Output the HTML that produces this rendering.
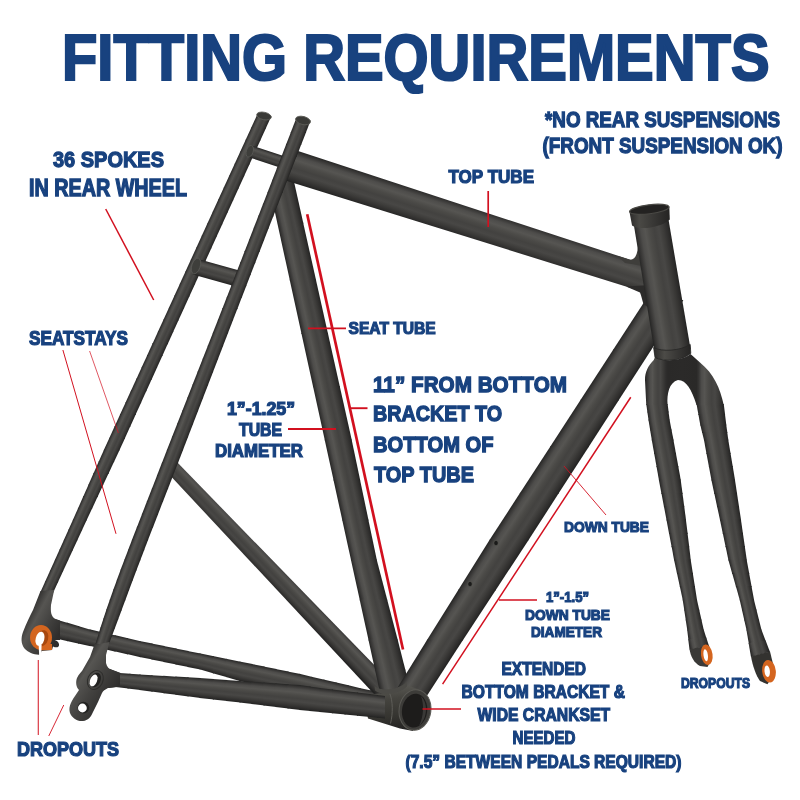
<!DOCTYPE html>
<html><head><meta charset="utf-8"><title>Fitting Requirements</title>
<style>
html,body{margin:0;padding:0;background:#fff;}
body{width:800px;height:800px;overflow:hidden;font-family:"Liberation Sans",sans-serif;}
svg{display:block}
text{font-family:"Liberation Sans",sans-serif;font-weight:bold;fill:#18427f;}
</style></head><body>
<svg width="800" height="800" viewBox="0 0 800 800">
<defs>
<linearGradient id="gb"><stop offset="0" stop-color="#252524"/><stop offset="0.06" stop-color="#343332"/><stop offset="0.18" stop-color="#4d4c4a"/><stop offset="0.3" stop-color="#565552"/><stop offset="0.42" stop-color="#4b4a47"/><stop offset="0.55" stop-color="#434240"/><stop offset="0.68" stop-color="#484745"/><stop offset="0.8" stop-color="#3c3b39"/><stop offset="0.92" stop-color="#2e2d2c"/><stop offset="1" stop-color="#222221"/></linearGradient>
<linearGradient id="g1" href="#gb" gradientUnits="userSpaceOnUse" x1="63.9" y1="621.7" x2="59.4" y2="639.3"/>
<linearGradient id="g2" href="#gb" gradientUnits="userSpaceOnUse" x1="75.2" y1="625.0" x2="70.8" y2="641.7"/>
<linearGradient id="g3" href="#gb" gradientUnits="userSpaceOnUse" x1="86.4" y1="628.3" x2="82.3" y2="644.2"/>
<linearGradient id="g4" href="#gb" gradientUnits="userSpaceOnUse" x1="98.0" y1="631.3" x2="94.5" y2="647.0"/>
<linearGradient id="g5" href="#gb" gradientUnits="userSpaceOnUse" x1="110.5" y1="634.2" x2="107.0" y2="649.7"/>
<linearGradient id="g6" href="#gb" gradientUnits="userSpaceOnUse" x1="123.0" y1="637.1" x2="119.5" y2="652.5"/>
<linearGradient id="g7" href="#gb" gradientUnits="userSpaceOnUse" x1="135.5" y1="639.9" x2="132.0" y2="655.2"/>
<linearGradient id="g8" href="#gb" gradientUnits="userSpaceOnUse" x1="147.6" y1="642.6" x2="144.4" y2="657.9"/>
<linearGradient id="g9" href="#gb" gradientUnits="userSpaceOnUse" x1="159.6" y1="645.1" x2="156.4" y2="660.4"/>
<linearGradient id="g10" href="#gb" gradientUnits="userSpaceOnUse" x1="171.6" y1="647.6" x2="168.4" y2="662.9"/>
<linearGradient id="g11" href="#gb" gradientUnits="userSpaceOnUse" x1="183.6" y1="650.1" x2="180.4" y2="665.4"/>
<linearGradient id="g12" href="#gb" gradientUnits="userSpaceOnUse" x1="195.6" y1="652.6" x2="192.4" y2="667.9"/>
<linearGradient id="g13" href="#gb" gradientUnits="userSpaceOnUse" x1="208.6" y1="655.3" x2="204.8" y2="671.0"/>
<linearGradient id="g14" href="#gb" gradientUnits="userSpaceOnUse" x1="222.0" y1="658.0" x2="218.0" y2="674.8"/>
<linearGradient id="g15" href="#gb" gradientUnits="userSpaceOnUse" x1="235.5" y1="660.7" x2="231.2" y2="678.6"/>
<linearGradient id="g16" href="#gb" gradientUnits="userSpaceOnUse" x1="248.0" y1="663.2" x2="244.0" y2="681.9"/>
<linearGradient id="g17" href="#gb" gradientUnits="userSpaceOnUse" x1="260.0" y1="665.7" x2="256.0" y2="684.5"/>
<linearGradient id="g18" href="#gb" gradientUnits="userSpaceOnUse" x1="272.0" y1="668.2" x2="268.0" y2="687.1"/>
<linearGradient id="g19" href="#gb" gradientUnits="userSpaceOnUse" x1="284.0" y1="670.7" x2="280.0" y2="689.7"/>
<linearGradient id="g20" href="#gb" gradientUnits="userSpaceOnUse" x1="296.0" y1="673.2" x2="292.0" y2="692.3"/>
<linearGradient id="g21" href="#gb" gradientUnits="userSpaceOnUse" x1="308.2" y1="675.9" x2="303.8" y2="694.9"/>
<linearGradient id="g22" href="#gb" gradientUnits="userSpaceOnUse" x1="320.2" y1="678.7" x2="315.8" y2="697.7"/>
<linearGradient id="g23" href="#gb" gradientUnits="userSpaceOnUse" x1="332.2" y1="681.5" x2="327.8" y2="700.5"/>
<linearGradient id="g24" href="#gb" gradientUnits="userSpaceOnUse" x1="344.2" y1="684.3" x2="339.8" y2="703.3"/>
<linearGradient id="g25" href="#gb" gradientUnits="userSpaceOnUse" x1="356.2" y1="687.1" x2="351.8" y2="706.1"/>
<linearGradient id="g26" href="#gb" gradientUnits="userSpaceOnUse" x1="367.3" y1="689.6" x2="363.4" y2="708.6"/>
<linearGradient id="g27" href="#gb" gradientUnits="userSpaceOnUse" x1="377.9" y1="691.9" x2="374.1" y2="710.6"/>
<linearGradient id="g28" href="#gb" gradientUnits="userSpaceOnUse" x1="388.5" y1="694.2" x2="384.8" y2="712.6"/>
<linearGradient id="g29" href="#gb" gradientUnits="userSpaceOnUse" x1="255.1" y1="119.2" x2="267.4" y2="124.8"/>
<linearGradient id="g30" href="#gb" gradientUnits="userSpaceOnUse" x1="249.6" y1="131.2" x2="262.0" y2="136.8"/>
<linearGradient id="g31" href="#gb" gradientUnits="userSpaceOnUse" x1="244.1" y1="143.2" x2="256.5" y2="148.8"/>
<linearGradient id="g32" href="#gb" gradientUnits="userSpaceOnUse" x1="238.6" y1="155.2" x2="251.1" y2="160.8"/>
<linearGradient id="g33" href="#gb" gradientUnits="userSpaceOnUse" x1="233.1" y1="167.2" x2="245.6" y2="172.8"/>
<linearGradient id="g34" href="#gb" gradientUnits="userSpaceOnUse" x1="227.7" y1="179.2" x2="240.2" y2="184.8"/>
<linearGradient id="g35" href="#gb" gradientUnits="userSpaceOnUse" x1="222.2" y1="191.1" x2="234.7" y2="196.9"/>
<linearGradient id="g36" href="#gb" gradientUnits="userSpaceOnUse" x1="216.7" y1="203.1" x2="229.2" y2="208.9"/>
<linearGradient id="g37" href="#gb" gradientUnits="userSpaceOnUse" x1="211.2" y1="215.1" x2="223.8" y2="220.9"/>
<linearGradient id="g38" href="#gb" gradientUnits="userSpaceOnUse" x1="205.7" y1="227.1" x2="218.3" y2="232.9"/>
<linearGradient id="g39" href="#gb" gradientUnits="userSpaceOnUse" x1="200.3" y1="239.1" x2="212.8" y2="244.9"/>
<linearGradient id="g40" href="#gb" gradientUnits="userSpaceOnUse" x1="194.8" y1="251.1" x2="207.4" y2="256.9"/>
<linearGradient id="g41" href="#gb" gradientUnits="userSpaceOnUse" x1="189.3" y1="263.1" x2="201.9" y2="268.9"/>
<linearGradient id="g42" href="#gb" gradientUnits="userSpaceOnUse" x1="183.8" y1="275.1" x2="196.4" y2="280.9"/>
<linearGradient id="g43" href="#gb" gradientUnits="userSpaceOnUse" x1="178.3" y1="287.1" x2="191.0" y2="292.9"/>
<linearGradient id="g44" href="#gb" gradientUnits="userSpaceOnUse" x1="172.9" y1="299.1" x2="185.5" y2="304.9"/>
<linearGradient id="g45" href="#gb" gradientUnits="userSpaceOnUse" x1="167.4" y1="311.1" x2="180.0" y2="316.9"/>
<linearGradient id="g46" href="#gb" gradientUnits="userSpaceOnUse" x1="162.0" y1="323.0" x2="174.6" y2="328.8"/>
<linearGradient id="g47" href="#gb" gradientUnits="userSpaceOnUse" x1="156.5" y1="334.8" x2="169.2" y2="340.6"/>
<linearGradient id="g48" href="#gb" gradientUnits="userSpaceOnUse" x1="151.1" y1="346.6" x2="163.9" y2="352.4"/>
<linearGradient id="g49" href="#gb" gradientUnits="userSpaceOnUse" x1="145.7" y1="358.5" x2="158.5" y2="364.3"/>
<linearGradient id="g50" href="#gb" gradientUnits="userSpaceOnUse" x1="140.3" y1="370.3" x2="153.1" y2="376.1"/>
<linearGradient id="g51" href="#gb" gradientUnits="userSpaceOnUse" x1="134.9" y1="382.1" x2="147.8" y2="387.9"/>
<linearGradient id="g52" href="#gb" gradientUnits="userSpaceOnUse" x1="129.5" y1="393.9" x2="142.4" y2="399.8"/>
<linearGradient id="g53" href="#gb" gradientUnits="userSpaceOnUse" x1="124.1" y1="405.7" x2="137.0" y2="411.6"/>
<linearGradient id="g54" href="#gb" gradientUnits="userSpaceOnUse" x1="118.7" y1="417.5" x2="131.6" y2="423.4"/>
<linearGradient id="g55" href="#gb" gradientUnits="userSpaceOnUse" x1="113.3" y1="429.3" x2="126.3" y2="435.2"/>
<linearGradient id="g56" href="#gb" gradientUnits="userSpaceOnUse" x1="107.9" y1="441.1" x2="120.9" y2="447.1"/>
<linearGradient id="g57" href="#gb" gradientUnits="userSpaceOnUse" x1="102.6" y1="452.9" x2="115.5" y2="458.8"/>
<linearGradient id="g58" href="#gb" gradientUnits="userSpaceOnUse" x1="97.4" y1="464.6" x2="110.0" y2="470.4"/>
<linearGradient id="g59" href="#gb" gradientUnits="userSpaceOnUse" x1="92.2" y1="476.3" x2="104.6" y2="482.0"/>
<linearGradient id="g60" href="#gb" gradientUnits="userSpaceOnUse" x1="87.0" y1="488.1" x2="99.1" y2="493.6"/>
<linearGradient id="g61" href="#gb" gradientUnits="userSpaceOnUse" x1="81.8" y1="499.8" x2="93.7" y2="505.2"/>
<linearGradient id="g62" href="#gb" gradientUnits="userSpaceOnUse" x1="76.6" y1="511.5" x2="88.2" y2="516.8"/>
<linearGradient id="g63" href="#gb" gradientUnits="userSpaceOnUse" x1="71.8" y1="522.4" x2="83.2" y2="527.6"/>
<linearGradient id="g64" href="#gb" gradientUnits="userSpaceOnUse" x1="67.3" y1="532.4" x2="78.6" y2="537.6"/>
<linearGradient id="g65" href="#gb" gradientUnits="userSpaceOnUse" x1="62.8" y1="542.5" x2="74.0" y2="547.5"/>
<linearGradient id="g66" href="#gb" gradientUnits="userSpaceOnUse" x1="58.3" y1="552.5" x2="69.4" y2="557.5"/>
<linearGradient id="g67" href="#gb" gradientUnits="userSpaceOnUse" x1="53.6" y1="563.0" x2="64.5" y2="568.0"/>
<linearGradient id="g68" href="#gb" gradientUnits="userSpaceOnUse" x1="48.6" y1="574.0" x2="59.5" y2="579.0"/>
<linearGradient id="g69" href="#gb" gradientUnits="userSpaceOnUse" x1="43.6" y1="585.0" x2="54.4" y2="590.0"/>
<linearGradient id="fdo" gradientUnits="userSpaceOnUse" x1="22" y1="622" x2="56" y2="640"><stop offset="0" stop-color="#2c2b2a"/><stop offset="0.28" stop-color="#565552"/><stop offset="0.6" stop-color="#434240"/><stop offset="1" stop-color="#2e2d2c"/></linearGradient>
<linearGradient id="g70" href="#gb" gradientUnits="userSpaceOnUse" x1="250.9" y1="145.3" x2="247.1" y2="156.7"/>
<linearGradient id="g71" href="#gb" gradientUnits="userSpaceOnUse" x1="197.2" y1="258.7" x2="192.8" y2="274.5"/>
<linearGradient id="g72" href="#gb" gradientUnits="userSpaceOnUse" x1="175.4" y1="455.8" x2="160.6" y2="470.0"/>
<linearGradient id="g73" href="#gb" gradientUnits="userSpaceOnUse" x1="274.4" y1="210.0" x2="299.1" y2="204.5"/>
<linearGradient id="g74" href="#gb" gradientUnits="userSpaceOnUse" x1="285.0" y1="258.5" x2="310.0" y2="253.0"/>
<linearGradient id="g75" href="#gb" gradientUnits="userSpaceOnUse" x1="296.2" y1="309.4" x2="321.3" y2="303.9"/>
<linearGradient id="g76" href="#gb" gradientUnits="userSpaceOnUse" x1="307.9" y1="362.8" x2="333.3" y2="357.2"/>
<linearGradient id="g77" href="#gb" gradientUnits="userSpaceOnUse" x1="319.5" y1="416.2" x2="345.2" y2="410.5"/>
<linearGradient id="g78" href="#gb" gradientUnits="userSpaceOnUse" x1="329.7" y1="462.7" x2="355.3" y2="457.3"/>
<linearGradient id="g79" href="#gb" gradientUnits="userSpaceOnUse" x1="338.5" y1="502.7" x2="363.7" y2="497.3"/>
<linearGradient id="g80" href="#gb" gradientUnits="userSpaceOnUse" x1="347.2" y1="542.7" x2="372.1" y2="537.3"/>
<linearGradient id="g81" href="#gb" gradientUnits="userSpaceOnUse" x1="356.1" y1="583.0" x2="381.3" y2="577.0"/>
<linearGradient id="g82" href="#gb" gradientUnits="userSpaceOnUse" x1="364.9" y1="623.2" x2="391.7" y2="616.8"/>
<linearGradient id="g83" href="#gb" gradientUnits="userSpaceOnUse" x1="372.6" y1="658.3" x2="400.8" y2="651.7"/>
<linearGradient id="g84" href="#gb" gradientUnits="userSpaceOnUse" x1="379.2" y1="688.5" x2="408.4" y2="681.5"/>
<linearGradient id="g85" href="#gb" gradientUnits="userSpaceOnUse" x1="288.9" y1="148.0" x2="279.1" y2="178.5"/>
<linearGradient id="g86" href="#gb" gradientUnits="userSpaceOnUse" x1="634.9" y1="316.3" x2="661.7" y2="333.7"/>
<linearGradient id="g87" href="#gb" gradientUnits="userSpaceOnUse" x1="602.4" y1="366.3" x2="629.4" y2="383.7"/>
<linearGradient id="g88" href="#gb" gradientUnits="userSpaceOnUse" x1="571.0" y1="414.5" x2="598.2" y2="432.1"/>
<linearGradient id="g89" href="#gb" gradientUnits="userSpaceOnUse" x1="540.7" y1="461.2" x2="568.0" y2="478.8"/>
<linearGradient id="g90" href="#gb" gradientUnits="userSpaceOnUse" x1="510.4" y1="507.8" x2="537.9" y2="525.6"/>
<linearGradient id="g91" href="#gb" gradientUnits="userSpaceOnUse" x1="479.4" y1="556.3" x2="506.6" y2="573.7"/>
<linearGradient id="g92" href="#gb" gradientUnits="userSpaceOnUse" x1="448.0" y1="606.6" x2="474.1" y2="623.4"/>
<linearGradient id="g93" href="#gb" gradientUnits="userSpaceOnUse" x1="411.9" y1="664.6" x2="437.0" y2="680.4"/>
<linearGradient id="g94" href="#gb" gradientUnits="userSpaceOnUse" x1="632.0" y1="217.0" x2="667.6" y2="211.0"/>
<linearGradient id="bbs" gradientUnits="userSpaceOnUse" x1="390" y1="688" x2="394" y2="730"><stop offset="0" stop-color="#55544f"/><stop offset="0.25" stop-color="#45443f"/><stop offset="0.7" stop-color="#34332f"/><stop offset="1" stop-color="#242322"/></linearGradient>
<linearGradient id="g95" href="#gb" gradientUnits="userSpaceOnUse" x1="114.9" y1="671.0" x2="112.1" y2="687.5"/>
<linearGradient id="g96" href="#gb" gradientUnits="userSpaceOnUse" x1="124.2" y1="673.3" x2="122.8" y2="687.8"/>
<linearGradient id="g97" href="#gb" gradientUnits="userSpaceOnUse" x1="135.3" y1="674.2" x2="133.7" y2="689.2"/>
<linearGradient id="g98" href="#gb" gradientUnits="userSpaceOnUse" x1="146.8" y1="674.9" x2="145.2" y2="690.7"/>
<linearGradient id="g99" href="#gb" gradientUnits="userSpaceOnUse" x1="158.8" y1="675.6" x2="157.2" y2="692.3"/>
<linearGradient id="g100" href="#gb" gradientUnits="userSpaceOnUse" x1="170.8" y1="676.3" x2="169.2" y2="693.9"/>
<linearGradient id="g101" href="#gb" gradientUnits="userSpaceOnUse" x1="182.9" y1="677.0" x2="181.1" y2="695.5"/>
<linearGradient id="g102" href="#gb" gradientUnits="userSpaceOnUse" x1="194.9" y1="677.7" x2="193.1" y2="697.1"/>
<linearGradient id="g103" href="#gb" gradientUnits="userSpaceOnUse" x1="207.6" y1="678.6" x2="205.7" y2="698.7"/>
<linearGradient id="g104" href="#gb" gradientUnits="userSpaceOnUse" x1="221.0" y1="679.6" x2="219.0" y2="700.2"/>
<linearGradient id="g105" href="#gb" gradientUnits="userSpaceOnUse" x1="234.3" y1="680.6" x2="232.3" y2="701.7"/>
<linearGradient id="g106" href="#gb" gradientUnits="userSpaceOnUse" x1="247.0" y1="681.5" x2="245.0" y2="703.2"/>
<linearGradient id="g107" href="#gb" gradientUnits="userSpaceOnUse" x1="259.1" y1="682.3" x2="256.9" y2="704.6"/>
<linearGradient id="g108" href="#gb" gradientUnits="userSpaceOnUse" x1="271.1" y1="683.1" x2="268.9" y2="706.1"/>
<linearGradient id="g109" href="#gb" gradientUnits="userSpaceOnUse" x1="283.1" y1="683.9" x2="280.9" y2="707.6"/>
<linearGradient id="g110" href="#gb" gradientUnits="userSpaceOnUse" x1="295.2" y1="684.7" x2="292.8" y2="709.1"/>
<linearGradient id="g111" href="#gb" gradientUnits="userSpaceOnUse" x1="306.5" y1="685.9" x2="303.5" y2="710.3"/>
<linearGradient id="g112" href="#gb" gradientUnits="userSpaceOnUse" x1="316.5" y1="687.4" x2="313.5" y2="711.3"/>
<linearGradient id="g113" href="#gb" gradientUnits="userSpaceOnUse" x1="327.5" y1="688.9" x2="325.0" y2="712.5"/>
<linearGradient id="g114" href="#gb" gradientUnits="userSpaceOnUse" x1="340.0" y1="690.4" x2="337.5" y2="713.7"/>
<linearGradient id="g115" href="#gb" gradientUnits="userSpaceOnUse" x1="352.5" y1="691.9" x2="350.0" y2="715.0"/>
<linearGradient id="g116" href="#gb" gradientUnits="userSpaceOnUse" x1="365.0" y1="693.4" x2="362.5" y2="716.2"/>
<linearGradient id="g117" href="#gb" gradientUnits="userSpaceOnUse" x1="375.1" y1="694.7" x2="372.4" y2="717.2"/>
<linearGradient id="g118" href="#gb" gradientUnits="userSpaceOnUse" x1="382.6" y1="695.7" x2="379.9" y2="718.0"/>
<linearGradient id="g119" href="#gb" gradientUnits="userSpaceOnUse" x1="294.1" y1="123.9" x2="307.3" y2="129.0"/>
<linearGradient id="g120" href="#gb" gradientUnits="userSpaceOnUse" x1="289.4" y1="135.9" x2="302.6" y2="141.0"/>
<linearGradient id="g121" href="#gb" gradientUnits="userSpaceOnUse" x1="284.8" y1="147.8" x2="298.0" y2="152.9"/>
<linearGradient id="g122" href="#gb" gradientUnits="userSpaceOnUse" x1="280.2" y1="159.8" x2="293.3" y2="164.9"/>
<linearGradient id="g123" href="#gb" gradientUnits="userSpaceOnUse" x1="275.5" y1="171.7" x2="288.7" y2="176.8"/>
<linearGradient id="g124" href="#gb" gradientUnits="userSpaceOnUse" x1="270.9" y1="183.7" x2="284.0" y2="188.8"/>
<linearGradient id="g125" href="#gb" gradientUnits="userSpaceOnUse" x1="266.3" y1="195.6" x2="279.4" y2="200.7"/>
<linearGradient id="g126" href="#gb" gradientUnits="userSpaceOnUse" x1="261.6" y1="207.6" x2="274.7" y2="212.7"/>
<linearGradient id="g127" href="#gb" gradientUnits="userSpaceOnUse" x1="257.0" y1="219.5" x2="270.1" y2="224.6"/>
<linearGradient id="g128" href="#gb" gradientUnits="userSpaceOnUse" x1="252.4" y1="231.5" x2="265.4" y2="236.6"/>
<linearGradient id="g129" href="#gb" gradientUnits="userSpaceOnUse" x1="247.8" y1="243.2" x2="260.9" y2="248.2"/>
<linearGradient id="g130" href="#gb" gradientUnits="userSpaceOnUse" x1="243.4" y1="254.6" x2="256.4" y2="259.7"/>
<linearGradient id="g131" href="#gb" gradientUnits="userSpaceOnUse" x1="238.9" y1="266.0" x2="252.0" y2="271.1"/>
<linearGradient id="g132" href="#gb" gradientUnits="userSpaceOnUse" x1="234.5" y1="277.5" x2="247.6" y2="282.5"/>
<linearGradient id="g133" href="#gb" gradientUnits="userSpaceOnUse" x1="230.0" y1="288.9" x2="243.1" y2="294.0"/>
<linearGradient id="g134" href="#gb" gradientUnits="userSpaceOnUse" x1="225.6" y1="300.3" x2="238.7" y2="305.4"/>
<linearGradient id="g135" href="#gb" gradientUnits="userSpaceOnUse" x1="221.1" y1="311.7" x2="234.3" y2="316.8"/>
<linearGradient id="g136" href="#gb" gradientUnits="userSpaceOnUse" x1="216.4" y1="323.9" x2="229.5" y2="329.1"/>
<linearGradient id="g137" href="#gb" gradientUnits="userSpaceOnUse" x1="211.3" y1="336.9" x2="224.5" y2="342.1"/>
<linearGradient id="g138" href="#gb" gradientUnits="userSpaceOnUse" x1="206.2" y1="349.9" x2="219.5" y2="355.1"/>
<linearGradient id="g139" href="#gb" gradientUnits="userSpaceOnUse" x1="201.1" y1="362.9" x2="214.5" y2="368.1"/>
<linearGradient id="g140" href="#gb" gradientUnits="userSpaceOnUse" x1="196.0" y1="375.9" x2="209.5" y2="381.1"/>
<linearGradient id="g141" href="#gb" gradientUnits="userSpaceOnUse" x1="190.9" y1="388.9" x2="204.5" y2="394.1"/>
<linearGradient id="g142" href="#gb" gradientUnits="userSpaceOnUse" x1="185.8" y1="401.8" x2="199.5" y2="407.2"/>
<linearGradient id="g143" href="#gb" gradientUnits="userSpaceOnUse" x1="180.7" y1="414.8" x2="194.5" y2="420.2"/>
<linearGradient id="g144" href="#gb" gradientUnits="userSpaceOnUse" x1="175.6" y1="427.8" x2="189.5" y2="433.2"/>
<linearGradient id="g145" href="#gb" gradientUnits="userSpaceOnUse" x1="170.5" y1="440.8" x2="184.4" y2="446.2"/>
<linearGradient id="g146" href="#gb" gradientUnits="userSpaceOnUse" x1="165.5" y1="453.7" x2="179.4" y2="459.1"/>
<linearGradient id="g147" href="#gb" gradientUnits="userSpaceOnUse" x1="160.5" y1="466.6" x2="174.4" y2="472.0"/>
<linearGradient id="g148" href="#gb" gradientUnits="userSpaceOnUse" x1="155.5" y1="479.4" x2="169.4" y2="484.9"/>
<linearGradient id="g149" href="#gb" gradientUnits="userSpaceOnUse" x1="150.5" y1="492.3" x2="164.4" y2="497.7"/>
<linearGradient id="g150" href="#gb" gradientUnits="userSpaceOnUse" x1="145.5" y1="505.1" x2="159.5" y2="510.6"/>
<linearGradient id="g151" href="#gb" gradientUnits="userSpaceOnUse" x1="140.5" y1="518.0" x2="154.5" y2="523.4"/>
<linearGradient id="g152" href="#gb" gradientUnits="userSpaceOnUse" x1="135.5" y1="530.9" x2="149.5" y2="536.3"/>
<linearGradient id="g153" href="#gb" gradientUnits="userSpaceOnUse" x1="131.1" y1="542.3" x2="145.1" y2="547.7"/>
<linearGradient id="g154" href="#gb" gradientUnits="userSpaceOnUse" x1="127.2" y1="552.3" x2="141.3" y2="557.7"/>
<linearGradient id="g155" href="#gb" gradientUnits="userSpaceOnUse" x1="123.4" y1="562.3" x2="137.5" y2="567.7"/>
<linearGradient id="g156" href="#gb" gradientUnits="userSpaceOnUse" x1="119.6" y1="572.4" x2="133.7" y2="577.6"/>
<linearGradient id="g157" href="#gb" gradientUnits="userSpaceOnUse" x1="116.0" y1="582.4" x2="130.0" y2="587.6"/>
<linearGradient id="g158" href="#gb" gradientUnits="userSpaceOnUse" x1="112.4" y1="592.5" x2="126.3" y2="597.5"/>
<linearGradient id="g159" href="#gb" gradientUnits="userSpaceOnUse" x1="108.9" y1="602.5" x2="122.6" y2="607.5"/>
<linearGradient id="g160" href="#gb" gradientUnits="userSpaceOnUse" x1="105.6" y1="612.1" x2="119.2" y2="616.9"/>
<linearGradient id="g161" href="#gb" gradientUnits="userSpaceOnUse" x1="102.6" y1="621.2" x2="115.8" y2="625.8"/>
<linearGradient id="g162" href="#gb" gradientUnits="userSpaceOnUse" x1="99.9" y1="629.8" x2="112.7" y2="634.2"/>
<linearGradient id="g163" href="#gb" gradientUnits="userSpaceOnUse" x1="97.4" y1="637.9" x2="109.7" y2="642.1"/>
<linearGradient id="ndo" gradientUnits="userSpaceOnUse" x1="74" y1="672" x2="112" y2="696"><stop offset="0" stop-color="#2c2b2a"/><stop offset="0.22" stop-color="#565552"/><stop offset="0.55" stop-color="#434240"/><stop offset="1" stop-color="#2e2d2c"/></linearGradient>
<linearGradient id="g164" href="#gb" gradientUnits="userSpaceOnUse" x1="647.0" y1="409.4" x2="667.9" y2="406.6"/>
<linearGradient id="g165" href="#gb" gradientUnits="userSpaceOnUse" x1="648.1" y1="417.4" x2="668.9" y2="414.6"/>
<linearGradient id="g166" href="#gb" gradientUnits="userSpaceOnUse" x1="649.7" y1="426.9" x2="670.2" y2="423.1"/>
<linearGradient id="g167" href="#gb" gradientUnits="userSpaceOnUse" x1="651.3" y1="436.9" x2="672.2" y2="433.1"/>
<linearGradient id="g168" href="#gb" gradientUnits="userSpaceOnUse" x1="653.3" y1="448.6" x2="674.4" y2="444.8"/>
<linearGradient id="g169" href="#gb" gradientUnits="userSpaceOnUse" x1="655.7" y1="461.9" x2="676.8" y2="458.1"/>
<linearGradient id="g170" href="#gb" gradientUnits="userSpaceOnUse" x1="658.1" y1="475.2" x2="679.2" y2="471.4"/>
<linearGradient id="g171" href="#gb" gradientUnits="userSpaceOnUse" x1="660.4" y1="488.3" x2="681.4" y2="485.0"/>
<linearGradient id="g172" href="#gb" gradientUnits="userSpaceOnUse" x1="663.0" y1="501.6" x2="683.1" y2="498.4"/>
<linearGradient id="g173" href="#gb" gradientUnits="userSpaceOnUse" x1="665.5" y1="514.9" x2="684.9" y2="511.8"/>
<linearGradient id="g174" href="#gb" gradientUnits="userSpaceOnUse" x1="668.0" y1="528.1" x2="686.6" y2="525.2"/>
<linearGradient id="g175" href="#gb" gradientUnits="userSpaceOnUse" x1="670.5" y1="541.4" x2="688.2" y2="538.6"/>
<linearGradient id="g176" href="#gb" gradientUnits="userSpaceOnUse" x1="673.0" y1="554.6" x2="689.8" y2="552.0"/>
<linearGradient id="g177" href="#gb" gradientUnits="userSpaceOnUse" x1="675.8" y1="568.1" x2="691.5" y2="565.2"/>
<linearGradient id="g178" href="#gb" gradientUnits="userSpaceOnUse" x1="678.7" y1="581.4" x2="693.6" y2="578.6"/>
<linearGradient id="g179" href="#gb" gradientUnits="userSpaceOnUse" x1="681.6" y1="594.7" x2="695.7" y2="592.0"/>
<linearGradient id="g180" href="#gb" gradientUnits="userSpaceOnUse" x1="683.7" y1="606.3" x2="697.9" y2="603.7"/>
<linearGradient id="g181" href="#gb" gradientUnits="userSpaceOnUse" x1="685.3" y1="616.4" x2="700.1" y2="613.6"/>
<linearGradient id="g182" href="#gb" gradientUnits="userSpaceOnUse" x1="686.8" y1="626.5" x2="702.4" y2="623.5"/>
<linearGradient id="g183" href="#gb" gradientUnits="userSpaceOnUse" x1="688.1" y1="636.2" x2="704.8" y2="632.7"/>
<linearGradient id="g184" href="#gb" gradientUnits="userSpaceOnUse" x1="689.1" y1="645.3" x2="707.6" y2="641.4"/>
<linearGradient id="g185" href="#gb" gradientUnits="userSpaceOnUse" x1="697.8" y1="411.2" x2="724.1" y2="407.3"/>
<linearGradient id="g186" href="#gb" gradientUnits="userSpaceOnUse" x1="699.6" y1="421.7" x2="725.4" y2="417.8"/>
<linearGradient id="g187" href="#gb" gradientUnits="userSpaceOnUse" x1="701.7" y1="431.1" x2="726.4" y2="426.4"/>
<linearGradient id="g188" href="#gb" gradientUnits="userSpaceOnUse" x1="703.5" y1="438.5" x2="727.4" y2="434.0"/>
<linearGradient id="g189" href="#gb" gradientUnits="userSpaceOnUse" x1="705.6" y1="448.7" x2="729.1" y2="444.6"/>
<linearGradient id="g190" href="#gb" gradientUnits="userSpaceOnUse" x1="708.1" y1="462.0" x2="731.3" y2="458.0"/>
<linearGradient id="g191" href="#gb" gradientUnits="userSpaceOnUse" x1="710.5" y1="475.4" x2="733.5" y2="471.3"/>
<linearGradient id="g192" href="#gb" gradientUnits="userSpaceOnUse" x1="713.2" y1="488.7" x2="735.6" y2="484.6"/>
<linearGradient id="g193" href="#gb" gradientUnits="userSpaceOnUse" x1="716.1" y1="502.0" x2="737.6" y2="498.0"/>
<linearGradient id="g194" href="#gb" gradientUnits="userSpaceOnUse" x1="718.9" y1="515.2" x2="739.7" y2="511.4"/>
<linearGradient id="g195" href="#gb" gradientUnits="userSpaceOnUse" x1="721.7" y1="528.4" x2="741.6" y2="524.9"/>
<linearGradient id="g196" href="#gb" gradientUnits="userSpaceOnUse" x1="724.5" y1="541.7" x2="743.6" y2="538.3"/>
<linearGradient id="g197" href="#gb" gradientUnits="userSpaceOnUse" x1="727.3" y1="554.9" x2="745.5" y2="551.7"/>
<linearGradient id="g198" href="#gb" gradientUnits="userSpaceOnUse" x1="730.7" y1="568.6" x2="747.5" y2="564.7"/>
<linearGradient id="g199" href="#gb" gradientUnits="userSpaceOnUse" x1="734.5" y1="581.8" x2="750.0" y2="578.2"/>
<linearGradient id="g200" href="#gb" gradientUnits="userSpaceOnUse" x1="738.2" y1="595.0" x2="752.4" y2="591.7"/>
<linearGradient id="g201" href="#gb" gradientUnits="userSpaceOnUse" x1="741.3" y1="606.6" x2="754.9" y2="603.4"/>
<linearGradient id="g202" href="#gb" gradientUnits="userSpaceOnUse" x1="743.5" y1="616.6" x2="757.4" y2="613.4"/>
<linearGradient id="g203" href="#gb" gradientUnits="userSpaceOnUse" x1="745.8" y1="626.7" x2="759.9" y2="623.3"/>
<linearGradient id="g204" href="#gb" gradientUnits="userSpaceOnUse" x1="748.0" y1="638.1" x2="763.3" y2="634.1"/>
<linearGradient id="g205" href="#gb" gradientUnits="userSpaceOnUse" x1="750.0" y1="650.7" x2="767.7" y2="646.0"/>
<linearGradient id="fk" gradientUnits="userSpaceOnUse" x1="645" y1="0" x2="725" y2="0"><stop offset="0.000" stop-color="#252524"/><stop offset="0.025" stop-color="#343332"/><stop offset="0.062" stop-color="#4d4c4a"/><stop offset="0.094" stop-color="#565552"/><stop offset="0.125" stop-color="#4b4a47"/><stop offset="0.163" stop-color="#434240"/><stop offset="0.194" stop-color="#484745"/><stop offset="0.225" stop-color="#3c3b39"/><stop offset="0.263" stop-color="#2e2d2c"/><stop offset="0.287" stop-color="#2a2928"/><stop offset="0.463" stop-color="#2b2a29"/><stop offset="0.644" stop-color="#2a2928"/><stop offset="0.669" stop-color="#343332"/><stop offset="0.706" stop-color="#4d4c4a"/><stop offset="0.744" stop-color="#565552"/><stop offset="0.787" stop-color="#4b4a47"/><stop offset="0.831" stop-color="#434240"/><stop offset="0.875" stop-color="#484745"/><stop offset="0.919" stop-color="#3c3b39"/><stop offset="0.963" stop-color="#2e2d2c"/><stop offset="0.994" stop-color="#222221"/></linearGradient>
<linearGradient id="ring" gradientUnits="userSpaceOnUse" x1="653" y1="0" x2="691" y2="0"><stop offset="0" stop-color="#2a2928"/><stop offset="0.3" stop-color="#4c4b47"/><stop offset="0.6" stop-color="#3a3937"/><stop offset="1" stop-color="#252423"/></linearGradient>
<linearGradient id="hcap" gradientUnits="userSpaceOnUse" x1="629" y1="0" x2="670" y2="0"><stop offset="0" stop-color="#2a2928"/><stop offset="0.25" stop-color="#4a4945"/><stop offset="0.6" stop-color="#383735"/><stop offset="1" stop-color="#242322"/></linearGradient>
<filter id="idf" x="0" y="0" width="800" height="800" filterUnits="userSpaceOnUse" color-interpolation-filters="sRGB"><feOffset dx="0" dy="0"/></filter>
</defs>
<rect width="800" height="800" fill="#ffffff"/>
<g id="far">
<polygon points="56.00,619.40 67.91,622.92 67.91,641.22 56.00,638.60" fill="url(#g1)"/>
<polygon points="66.75,622.62 79.25,626.28 79.25,643.68 66.75,640.92" fill="url(#g2)"/>
<polygon points="78.09,625.98 90.58,629.65 90.58,646.15 78.09,643.38" fill="url(#g3)"/>
<polygon points="89.41,629.37 103.09,632.51 103.09,648.88 89.41,645.87" fill="url(#g4)"/>
<polygon points="101.91,632.24 115.59,635.38 115.59,651.63 101.91,648.62" fill="url(#g5)"/>
<polygon points="114.41,635.12 128.09,638.26 128.09,654.38 114.41,651.37" fill="url(#g6)"/>
<polygon points="126.91,637.99 140.59,641.13 140.59,657.13 126.91,654.12" fill="url(#g7)"/>
<polygon points="139.41,640.88 152.59,643.62 152.59,659.62 139.41,656.88" fill="url(#g8)"/>
<polygon points="151.41,643.38 164.59,646.12 164.59,662.12 151.41,659.38" fill="url(#g9)"/>
<polygon points="163.41,645.88 176.59,648.62 176.59,664.62 163.41,661.88" fill="url(#g10)"/>
<polygon points="175.41,648.38 188.59,651.12 188.59,667.12 175.41,664.38" fill="url(#g11)"/>
<polygon points="187.41,650.88 200.59,653.62 200.59,669.62 187.41,666.88" fill="url(#g12)"/>
<polygon points="199.42,653.36 213.92,656.31 213.92,673.48 199.42,669.36" fill="url(#g13)"/>
<polygon points="212.75,656.02 227.25,658.98 227.25,677.31 212.75,673.19" fill="url(#g14)"/>
<polygon points="226.08,658.69 240.58,661.64 240.58,681.14 226.08,677.02" fill="url(#g15)"/>
<polygon points="239.41,661.38 252.59,664.12 252.59,683.72 239.41,680.88" fill="url(#g16)"/>
<polygon points="251.41,663.88 264.59,666.62 264.59,686.32 251.41,683.48" fill="url(#g17)"/>
<polygon points="263.41,666.38 276.59,669.12 276.59,688.92 263.41,686.08" fill="url(#g18)"/>
<polygon points="275.41,668.88 288.59,671.62 288.59,691.52 275.41,688.68" fill="url(#g19)"/>
<polygon points="287.41,671.38 300.59,674.12 300.59,694.12 287.41,691.28" fill="url(#g20)"/>
<polygon points="299.42,673.86 312.58,676.94 312.58,696.94 299.42,693.86" fill="url(#g21)"/>
<polygon points="311.42,676.66 324.58,679.74 324.58,699.74 311.42,696.66" fill="url(#g22)"/>
<polygon points="323.42,679.46 336.58,682.54 336.58,702.54 323.42,699.46" fill="url(#g23)"/>
<polygon points="335.42,682.26 348.58,685.34 348.58,705.34 335.42,702.26" fill="url(#g24)"/>
<polygon points="347.42,685.06 360.58,688.14 360.58,708.14 347.42,705.06" fill="url(#g25)"/>
<polygon points="359.41,687.88 371.25,690.45 371.25,710.12 359.41,707.88" fill="url(#g26)"/>
<polygon points="370.08,690.21 381.92,692.79 381.92,712.12 370.08,709.88" fill="url(#g27)"/>
<polygon points="380.75,692.55 392.00,695.00 392.00,714.00 380.75,711.88" fill="url(#g28)"/>
<polygon points="256.58,116.00 250.84,128.55 265.72,128.55 271.42,116.00" fill="url(#g29)"/>
<polygon points="251.34,127.45 245.34,140.55 260.27,140.55 266.22,127.45" fill="url(#g30)"/>
<polygon points="245.84,139.45 239.85,152.55 254.83,152.55 260.77,139.45" fill="url(#g31)"/>
<polygon points="240.34,151.45 234.35,164.55 249.38,164.55 255.32,151.45" fill="url(#g32)"/>
<polygon points="234.85,163.45 228.86,176.55 243.93,176.55 249.87,163.45" fill="url(#g33)"/>
<polygon points="229.35,175.45 223.36,188.55 238.48,188.55 244.43,175.45" fill="url(#g34)"/>
<polygon points="223.86,187.45 217.87,200.55 233.03,200.55 238.98,187.45" fill="url(#g35)"/>
<polygon points="218.36,199.45 212.39,212.55 227.57,212.55 233.53,199.45" fill="url(#g36)"/>
<polygon points="212.89,211.45 206.91,224.55 222.10,224.55 228.06,211.45" fill="url(#g37)"/>
<polygon points="207.41,223.45 201.43,236.55 216.63,236.55 222.60,223.45" fill="url(#g38)"/>
<polygon points="201.93,235.45 195.96,248.55 211.17,248.55 217.13,235.45" fill="url(#g39)"/>
<polygon points="196.45,247.45 190.48,260.55 205.70,260.55 211.67,247.45" fill="url(#g40)"/>
<polygon points="190.98,259.45 185.00,272.55 200.24,272.55 206.20,259.45" fill="url(#g41)"/>
<polygon points="185.50,271.45 179.53,284.55 194.77,284.55 200.73,271.45" fill="url(#g42)"/>
<polygon points="180.02,283.45 174.05,296.55 189.30,296.55 195.27,283.45" fill="url(#g43)"/>
<polygon points="174.55,295.45 168.57,308.55 183.84,308.55 189.80,295.45" fill="url(#g44)"/>
<polygon points="169.07,307.45 163.09,320.55 178.37,320.55 184.33,307.45" fill="url(#g45)"/>
<polygon points="163.59,319.45 157.69,332.36 173.00,332.36 178.87,319.45" fill="url(#g46)"/>
<polygon points="158.18,331.27 152.28,344.18 167.63,344.18 173.50,331.27" fill="url(#g47)"/>
<polygon points="152.77,343.09 146.87,356.00 162.26,356.00 168.13,343.09" fill="url(#g48)"/>
<polygon points="147.37,354.91 141.46,367.82 156.90,367.82 162.76,354.91" fill="url(#g49)"/>
<polygon points="141.96,366.73 136.05,379.64 151.53,379.64 157.39,366.73" fill="url(#g50)"/>
<polygon points="136.55,378.54 130.64,391.46 146.16,391.46 152.02,378.54" fill="url(#g51)"/>
<polygon points="131.14,390.36 125.23,403.27 140.79,403.27 146.66,390.36" fill="url(#g52)"/>
<polygon points="125.73,402.18 119.82,415.09 135.42,415.09 141.29,402.18" fill="url(#g53)"/>
<polygon points="120.32,414.00 114.41,426.91 130.05,426.91 135.92,414.00" fill="url(#g54)"/>
<polygon points="114.91,425.82 109.01,438.73 124.68,438.73 130.55,425.82" fill="url(#g55)"/>
<polygon points="109.50,437.64 103.60,450.55 119.31,450.55 125.18,437.64" fill="url(#g56)"/>
<polygon points="104.10,449.45 98.43,462.21 113.84,462.21 119.81,449.45" fill="url(#g57)"/>
<polygon points="98.93,461.12 93.27,473.88 108.36,473.88 114.34,461.12" fill="url(#g58)"/>
<polygon points="93.77,472.79 88.11,485.55 102.89,485.55 108.86,472.79" fill="url(#g59)"/>
<polygon points="88.60,484.45 82.94,497.21 97.41,497.21 103.39,484.45" fill="url(#g60)"/>
<polygon points="83.44,496.12 77.78,508.88 91.94,508.88 97.91,496.12" fill="url(#g61)"/>
<polygon points="78.28,507.79 72.61,520.55 86.46,520.55 92.43,507.79" fill="url(#g62)"/>
<polygon points="73.11,519.45 68.12,530.55 81.83,530.55 86.96,519.45" fill="url(#g63)"/>
<polygon points="68.62,529.45 63.63,540.55 77.20,540.55 82.33,529.45" fill="url(#g64)"/>
<polygon points="64.13,539.45 59.14,550.55 72.58,550.55 77.70,539.45" fill="url(#g65)"/>
<polygon points="59.64,549.45 54.65,560.55 67.95,560.55 73.07,549.45" fill="url(#g66)"/>
<polygon points="55.15,559.45 49.69,571.55 62.88,571.55 68.45,559.45" fill="url(#g67)"/>
<polygon points="50.19,570.45 44.73,582.55 57.81,582.55 63.37,570.45" fill="url(#g68)"/>
<polygon points="45.23,581.45 40.02,593.00 52.98,593.00 58.30,581.45" fill="url(#g69)"/>
<path d="M40.5,591 L54.2,590 L51,605 C50.5,612 51,616 55,618.8 L60,620.5 L60,640 L53.5,640 C57,640 59.5,642.5 59,645.5 C58.5,647.5 56,648 53,646.5 L52,650 L41.5,651 L40.6,654.6 C35,655.3 28,652.5 24.5,648.5 C21,644 20.8,638 23,632 C26,624 30,616 33,610 Z" fill="url(#fdo)"/>
<ellipse cx="41" cy="637.5" rx="11" ry="12.5" fill="#d4651f"/>
<path d="M41,644 L52,644 L52,650 L41,650.3 Z" fill="#d4651f"/>
<ellipse cx="42.6" cy="638.2" rx="5.6" ry="8.2" fill="#a8480f" transform="rotate(15 42.6 638.2)"/>
<ellipse cx="40" cy="638.8" rx="4.3" ry="7.2" fill="#fff" transform="rotate(15 40 638.8)"/>
<path d="M38.6,644 L41.6,645 L41.2,656 L39.2,656 Z" fill="#fff"/>
<ellipse cx="264" cy="116" rx="7.4" ry="3.7" fill="#3a3a37" stroke="#5a5a55" stroke-width="0.9" transform="rotate(12 264 116)"/>
</g>
<polygon points="247.13,156.70 285.13,169.20 288.87,157.80 250.87,145.30" fill="url(#g70)" />
<ellipse cx="250" cy="151.3" rx="3.4" ry="6.1" fill="#3e3e3b" stroke="#5a5a56" stroke-width="0.8" transform="rotate(18 250 150.5)"/>
<polygon points="192.81,274.45 235.81,286.45 240.19,270.75 197.19,258.75" fill="url(#g71)" />
<ellipse cx="196" cy="266" rx="4.2" ry="8.2" fill="#3e3e3b" stroke="#5a5a56" stroke-width="0.8" transform="rotate(18 196 266)"/>
<polygon points="162.93,467.73 380.58,700.97 395.42,686.83 173.07,458.07" fill="url(#g72)" />
<polygon points="272.25,200.00 281.13,240.59 303.38,223.59 290.50,166.00" fill="url(#g73)"/>
<polygon points="280.87,239.41 289.88,280.59 316.13,280.59 303.12,222.41" fill="url(#g74)"/>
<polygon points="289.62,279.41 301.55,333.92 328.05,333.92 315.87,279.41" fill="url(#g75)"/>
<polygon points="301.29,332.75 313.21,387.25 339.96,387.25 327.79,332.75" fill="url(#g76)"/>
<polygon points="312.95,386.08 324.88,440.59 351.88,440.59 339.70,386.08" fill="url(#g77)"/>
<polygon points="324.62,439.41 333.63,480.59 360.23,480.59 351.62,439.41" fill="url(#g78)"/>
<polygon points="333.37,479.41 342.38,520.59 368.58,520.59 359.97,479.41" fill="url(#g79)"/>
<polygon points="342.12,519.41 351.13,560.59 376.93,560.59 368.32,519.41" fill="url(#g80)"/>
<polygon points="350.86,559.42 359.89,600.58 387.42,600.58 376.66,559.42" fill="url(#g81)"/>
<polygon points="359.61,599.42 368.64,640.58 397.89,640.58 387.13,599.42" fill="url(#g82)"/>
<polygon points="368.36,639.42 375.20,670.58 405.51,670.58 397.61,639.42" fill="url(#g83)"/>
<polygon points="374.92,669.42 381.62,700.00 413.00,700.00 405.24,669.42" fill="url(#g84)"/>
<polygon points="279.13,178.52 645.99,292.67 654.01,267.53 288.87,148.03" fill="url(#g85)" />
<polygon points="645.50,300.00 612.67,350.50 650.82,350.50 683.40,300.00" fill="url(#g86)"/>
<polygon points="613.33,349.50 580.17,400.50 618.57,400.50 651.48,349.50" fill="url(#g87)"/>
<polygon points="580.83,399.50 549.84,447.17 588.47,447.17 619.23,399.50" fill="url(#g88)"/>
<polygon points="550.49,446.16 519.51,493.84 558.37,493.84 589.13,446.16" fill="url(#g89)"/>
<polygon points="520.16,492.83 489.17,540.50 528.27,540.50 559.03,492.83" fill="url(#g90)"/>
<polygon points="489.82,539.49 457.93,590.51 495.48,590.51 528.92,539.49" fill="url(#g91)"/>
<polygon points="458.57,589.49 426.68,640.51 462.68,640.51 496.12,589.49" fill="url(#g92)"/>
<polygon points="427.32,639.49 386.80,705.00 421.00,705.00 463.32,639.49" fill="url(#g93)"/>
<ellipse cx="496" cy="543" rx="2.2" ry="2.6" fill="#1a1a19" stroke="#55554f" stroke-width="0.6"/>
<ellipse cx="470" cy="584" rx="2.2" ry="2.6" fill="#1a1a19" stroke="#55554f" stroke-width="0.6"/>
<path d="M618,256 L630,259.7 C635,260 637.6,255 638.3,243 L644,266 L625,263 Z" fill="#3f3e3b"/>
<path d="M626,286.5 L640,292.5 C641.5,296 642,300 643.5,304 L652,310 L652,285 Z" fill="#2c2b2a"/>
<polygon points="632.54,216.88 655.04,354.96 690.56,349.04 667.06,211.12" fill="url(#g94)" />
<path d="M629.3,211 L632,225.5 C640,230.5 660,228 669.8,219.5 L669.3,206.5 Z" fill="url(#hcap)"/>
<ellipse cx="649.3" cy="209.3" rx="19.8" ry="4.5" fill="#232221" stroke="#4a4945" stroke-width="1.2" transform="rotate(-7 649.3 209.3)"/>
<path d="M368,694.5 L389,692.5 L406,685 L419,689.5 L413,731 L400,728.5 L368,718.5 C366.5,712 366.5,701 368,694.5 Z" fill="url(#bbs)"/>
<path d="M389.5,693 C393,700 393,714 390.5,723.5" fill="none" stroke="#5e5d58" stroke-width="1"/>
<path d="M374.5,686 C382,692 398,690 406.5,682 L407,686.5 C399,694.5 382,696 375,690.5 Z" fill="#4b4a46"/>
<ellipse cx="415" cy="710" rx="15.9" ry="20.3" fill="#3d3c39" stroke="#5a5954" stroke-width="1" transform="rotate(8 415 710)"/>
<ellipse cx="414.6" cy="710.6" rx="12.6" ry="17" fill="#1d1c1b" transform="rotate(8 414.6 710.6)"/>
<path d="M421,696 C428,703 428,718 419,726 C424,716 424,704 421,696 Z" fill="#3a3937"/>
<polygon points="110.00,669.00 120.59,673.10 116.59,687.10 108.00,688.00" fill="url(#g95)"/>
<polygon points="119.40,672.94 130.60,673.81 128.60,688.56 115.40,686.94" fill="url(#g96)"/>
<polygon points="129.40,673.69 140.60,674.56 140.60,690.06 127.40,688.44" fill="url(#g97)"/>
<polygon points="139.40,674.44 152.60,675.26 152.60,691.66 139.40,689.94" fill="url(#g98)"/>
<polygon points="151.40,675.14 164.60,675.96 164.60,693.26 151.40,691.54" fill="url(#g99)"/>
<polygon points="163.40,675.84 176.60,676.66 176.60,694.86 163.40,693.14" fill="url(#g100)"/>
<polygon points="175.40,676.54 188.60,677.36 188.60,696.46 175.40,694.74" fill="url(#g101)"/>
<polygon points="187.40,677.24 200.60,678.06 200.60,698.06 187.40,696.34" fill="url(#g102)"/>
<polygon points="199.40,677.94 213.93,679.06 213.93,699.56 199.40,697.94" fill="url(#g103)"/>
<polygon points="212.74,678.94 227.26,680.06 227.26,701.06 212.74,699.44" fill="url(#g104)"/>
<polygon points="226.07,679.94 240.60,681.06 240.60,702.56 226.07,700.94" fill="url(#g105)"/>
<polygon points="239.40,680.94 252.60,681.86 252.60,704.06 239.40,702.44" fill="url(#g106)"/>
<polygon points="251.40,681.74 264.60,682.66 264.60,705.56 251.40,703.94" fill="url(#g107)"/>
<polygon points="263.40,682.54 276.60,683.46 276.60,707.06 263.40,705.44" fill="url(#g108)"/>
<polygon points="275.40,683.34 288.60,684.26 288.60,708.56 275.40,706.94" fill="url(#g109)"/>
<polygon points="287.40,684.14 300.60,685.06 300.60,710.06 287.40,708.44" fill="url(#g110)"/>
<polygon points="299.40,684.93 310.60,686.57 310.60,711.07 299.40,709.93" fill="url(#g111)"/>
<polygon points="309.40,686.43 320.60,688.07 320.60,712.07 309.40,710.93" fill="url(#g112)"/>
<polygon points="319.40,687.93 333.10,689.57 333.10,713.32 319.40,711.93" fill="url(#g113)"/>
<polygon points="331.90,689.43 345.60,691.07 345.60,714.57 331.90,713.18" fill="url(#g114)"/>
<polygon points="344.40,690.93 358.10,692.57 358.10,715.82 344.40,714.43" fill="url(#g115)"/>
<polygon points="356.90,692.43 370.60,694.07 370.60,717.07 356.90,715.68" fill="url(#g116)"/>
<polygon points="369.40,693.93 378.10,695.07 378.10,717.82 369.40,716.93" fill="url(#g117)"/>
<polygon points="376.90,694.93 385.00,696.00 385.00,718.50 376.90,717.68" fill="url(#g118)"/>
<polygon points="295.40,120.50 290.55,133.01 305.73,133.01 310.60,120.50" fill="url(#g119)"/>
<polygon points="290.98,131.89 285.91,144.96 301.08,144.96 306.17,131.89" fill="url(#g120)"/>
<polygon points="286.35,143.84 281.28,156.91 296.42,156.91 301.51,143.84" fill="url(#g121)"/>
<polygon points="281.71,155.79 276.65,168.86 291.77,168.86 296.86,155.79" fill="url(#g122)"/>
<polygon points="277.08,167.74 272.01,180.81 287.11,180.81 292.20,167.74" fill="url(#g123)"/>
<polygon points="272.45,179.69 267.38,192.76 282.46,192.76 287.55,179.69" fill="url(#g124)"/>
<polygon points="267.81,191.64 262.75,204.71 277.81,204.71 282.89,191.64" fill="url(#g125)"/>
<polygon points="263.18,203.59 258.11,216.66 273.15,216.66 278.24,203.59" fill="url(#g126)"/>
<polygon points="258.55,215.54 253.48,228.61 268.50,228.61 273.59,215.54" fill="url(#g127)"/>
<polygon points="253.92,227.49 248.85,240.56 263.84,240.56 268.93,227.49" fill="url(#g128)"/>
<polygon points="249.28,239.44 244.40,251.99 259.41,251.99 264.28,239.44" fill="url(#g129)"/>
<polygon points="244.83,250.87 239.95,263.42 254.98,263.42 259.84,250.87" fill="url(#g130)"/>
<polygon points="240.38,262.30 235.50,274.84 250.54,274.84 255.41,262.30" fill="url(#g131)"/>
<polygon points="235.94,273.73 231.05,286.27 246.11,286.27 250.98,273.73" fill="url(#g132)"/>
<polygon points="231.49,285.16 226.60,297.70 241.67,297.70 246.54,285.16" fill="url(#g133)"/>
<polygon points="227.04,296.58 222.15,309.13 237.24,309.13 242.11,296.58" fill="url(#g134)"/>
<polygon points="222.59,308.01 217.71,320.56 232.81,320.56 237.68,308.01" fill="url(#g135)"/>
<polygon points="218.14,319.44 212.61,333.56 227.80,333.56 233.24,319.44" fill="url(#g136)"/>
<polygon points="213.04,332.44 207.51,346.56 222.80,346.56 228.24,332.44" fill="url(#g137)"/>
<polygon points="207.94,345.44 202.41,359.56 217.80,359.56 223.24,345.44" fill="url(#g138)"/>
<polygon points="202.84,358.44 197.31,372.56 212.79,372.56 218.23,358.44" fill="url(#g139)"/>
<polygon points="197.74,371.44 192.21,385.56 207.79,385.56 213.23,371.44" fill="url(#g140)"/>
<polygon points="192.64,384.44 187.11,398.56 202.79,398.56 208.22,384.44" fill="url(#g141)"/>
<polygon points="187.54,397.44 182.01,411.56 197.78,411.56 203.22,397.44" fill="url(#g142)"/>
<polygon points="182.44,410.44 176.91,424.56 192.78,424.56 198.22,410.44" fill="url(#g143)"/>
<polygon points="177.34,423.44 171.81,437.56 187.78,437.56 193.21,423.44" fill="url(#g144)"/>
<polygon points="172.24,436.44 166.71,450.56 182.77,450.56 188.21,436.44" fill="url(#g145)"/>
<polygon points="167.14,449.44 161.71,463.42 177.78,463.42 183.21,449.44" fill="url(#g146)"/>
<polygon points="162.14,462.30 156.71,476.27 172.78,476.27 178.21,462.30" fill="url(#g147)"/>
<polygon points="157.15,475.16 151.72,489.13 167.78,489.13 173.21,475.16" fill="url(#g148)"/>
<polygon points="152.15,488.01 146.72,501.99 162.79,501.99 168.22,488.01" fill="url(#g149)"/>
<polygon points="147.16,500.87 141.72,514.84 157.79,514.84 163.22,500.87" fill="url(#g150)"/>
<polygon points="142.16,513.73 136.73,527.70 152.79,527.70 158.23,513.73" fill="url(#g151)"/>
<polygon points="137.16,526.58 131.73,540.56 147.80,540.56 153.23,526.58" fill="url(#g152)"/>
<polygon points="132.16,539.44 127.92,550.56 143.99,550.56 148.23,539.44" fill="url(#g153)"/>
<polygon points="128.35,549.44 124.11,560.56 140.17,560.56 144.42,549.44" fill="url(#g154)"/>
<polygon points="124.54,559.44 120.29,570.56 136.36,570.56 140.60,559.44" fill="url(#g155)"/>
<polygon points="120.72,569.44 116.66,580.56 132.62,580.56 136.78,569.44" fill="url(#g156)"/>
<polygon points="117.08,579.44 113.02,590.56 128.87,590.56 133.03,579.44" fill="url(#g157)"/>
<polygon points="113.43,589.44 109.53,600.56 125.17,600.56 129.28,589.44" fill="url(#g158)"/>
<polygon points="109.94,599.44 106.04,610.56 121.47,610.56 125.58,599.44" fill="url(#g159)"/>
<polygon points="106.45,609.43 103.11,619.57 118.10,619.57 121.87,609.43" fill="url(#g160)"/>
<polygon points="103.50,618.43 100.17,628.57 114.73,628.57 118.50,618.43" fill="url(#g161)"/>
<polygon points="100.56,627.43 97.70,636.57 111.73,636.57 115.12,627.43" fill="url(#g162)"/>
<polygon points="98.09,635.43 95.42,644.00 108.92,644.00 112.12,635.43" fill="url(#g163)"/>
<ellipse cx="303" cy="120.5" rx="7.6" ry="4.0" fill="#3a3a37" stroke="#5a5a55" stroke-width="0.9" transform="rotate(14 303 120.5)"/>
<path d="M94.3,645 L109.5,642 L106,655 L106,663 C107,667 109,669 112,670 L120,673 L120,687 L116,687 L108,688 C105,689.5 103,691 102,693 L98,702 L93,712 C91,717 88,720.5 83,721 C77,721.5 72,718 70,713 C68.5,708 70,703 75,696 L79,690 C76,687 75.5,682 77,678 C79,674 81,672 82,671 L90,657 Z" fill="url(#ndo)"/>
<ellipse cx="95.3" cy="680" rx="7.6" ry="9.8" fill="none" stroke="#2e2e2c" stroke-width="1" transform="rotate(25 95.3 680)"/>
<ellipse cx="95.3" cy="680" rx="5.2" ry="7.6" fill="#222221" transform="rotate(25 95.3 680)"/>
<ellipse cx="93.6" cy="680.4" rx="3.5" ry="6.2" fill="#fff" transform="rotate(22 93.6 680.4)"/>
<circle cx="83.4" cy="707.6" r="5.8" fill="#222221"/>
<circle cx="82.4" cy="708" r="4.4" fill="#fff"/>
<polygon points="646.25,404.00 647.45,412.59 668.68,412.59 667.60,404.00" fill="url(#g164)"/>
<polygon points="647.30,411.41 648.58,420.59 669.68,420.59 668.52,411.41" fill="url(#g165)"/>
<polygon points="648.39,419.41 650.26,430.59 671.66,430.59 669.49,419.41" fill="url(#g166)"/>
<polygon points="650.04,429.41 651.91,440.59 673.61,440.59 671.44,429.41" fill="url(#g167)"/>
<polygon points="651.69,439.41 654.27,453.92 676.02,453.92 673.39,439.41" fill="url(#g168)"/>
<polygon points="654.06,452.74 656.64,467.26 678.44,467.26 675.81,452.74" fill="url(#g169)"/>
<polygon points="656.43,466.08 659.01,480.59 680.86,480.59 678.23,466.08" fill="url(#g170)"/>
<polygon points="658.80,479.41 661.53,493.93 682.60,493.93 680.65,479.41" fill="url(#g171)"/>
<polygon points="661.34,492.74 664.06,507.26 684.35,507.26 682.40,492.74" fill="url(#g172)"/>
<polygon points="663.87,506.07 666.60,520.59 686.10,520.59 684.15,506.07" fill="url(#g173)"/>
<polygon points="666.41,519.41 669.12,533.93 687.67,533.93 685.91,519.41" fill="url(#g174)"/>
<polygon points="668.94,532.74 671.66,547.26 689.26,547.26 687.49,532.74" fill="url(#g175)"/>
<polygon points="671.48,546.07 674.19,560.59 690.84,560.59 689.08,546.07" fill="url(#g176)"/>
<polygon points="673.99,559.41 677.09,573.92 692.94,573.92 690.64,559.41" fill="url(#g177)"/>
<polygon points="676.87,572.74 679.98,587.26 695.03,587.26 692.72,572.74" fill="url(#g178)"/>
<polygon points="679.76,586.08 682.86,600.59 697.11,600.59 694.81,586.08" fill="url(#g179)"/>
<polygon points="682.64,599.41 684.36,610.59 699.36,610.59 696.89,599.41" fill="url(#g180)"/>
<polygon points="684.14,609.41 685.86,620.59 701.61,620.59 699.14,609.41" fill="url(#g181)"/>
<polygon points="685.64,619.41 687.36,630.59 703.86,630.59 701.39,619.41" fill="url(#g182)"/>
<polygon points="687.13,629.41 688.50,640.34 706.50,638.59 703.63,629.41" fill="url(#g183)"/>
<polygon points="688.25,639.16 689.50,649.50 709.00,646.00 706.25,637.41" fill="url(#g184)"/>
<polygon points="696.50,404.00 698.49,415.09 725.11,415.09 723.75,404.00" fill="url(#g185)"/>
<polygon points="698.31,413.91 700.39,425.59 726.39,425.59 724.94,413.91" fill="url(#g186)"/>
<polygon points="700.19,424.41 702.26,433.09 727.41,433.09 726.19,424.41" fill="url(#g187)"/>
<polygon points="702.04,431.91 704.11,440.59 728.41,440.59 727.19,431.91" fill="url(#g188)"/>
<polygon points="703.90,439.41 706.57,453.92 730.64,453.92 728.20,439.41" fill="url(#g189)"/>
<polygon points="706.36,452.74 709.04,467.26 732.87,467.26 730.43,452.74" fill="url(#g190)"/>
<polygon points="708.83,466.08 711.50,480.59 735.10,480.59 732.66,466.08" fill="url(#g191)"/>
<polygon points="711.29,479.41 714.37,493.92 737.11,493.92 734.89,479.41" fill="url(#g192)"/>
<polygon points="714.16,492.74 717.24,507.26 739.11,507.26 736.89,492.74" fill="url(#g193)"/>
<polygon points="717.03,506.08 720.11,520.59 741.11,520.59 738.89,506.08" fill="url(#g194)"/>
<polygon points="719.90,519.41 722.90,533.92 743.02,533.92 740.90,519.41" fill="url(#g195)"/>
<polygon points="722.70,532.74 725.70,547.26 744.94,547.26 742.81,532.74" fill="url(#g196)"/>
<polygon points="725.50,546.08 728.50,560.59 746.85,560.59 744.73,546.08" fill="url(#g197)"/>
<polygon points="728.26,559.42 732.32,573.92 749.30,573.92 746.61,559.42" fill="url(#g198)"/>
<polygon points="732.05,572.75 736.10,587.25 751.72,587.25 749.03,572.75" fill="url(#g199)"/>
<polygon points="735.83,586.08 739.89,600.58 754.14,600.58 751.45,586.08" fill="url(#g200)"/>
<polygon points="739.61,599.42 742.14,610.58 756.64,610.58 753.86,599.42" fill="url(#g201)"/>
<polygon points="741.86,609.42 744.39,620.58 759.14,620.58 756.36,609.42" fill="url(#g202)"/>
<polygon points="744.11,619.42 746.64,630.58 761.64,630.58 758.86,619.42" fill="url(#g203)"/>
<polygon points="746.35,629.42 748.90,644.08 765.90,641.58 761.35,629.42" fill="url(#g204)"/>
<polygon points="748.60,642.92 751.00,657.00 770.00,652.00 765.60,640.42" fill="url(#g205)"/>
<path d="M689.5,649 C690.5,656 694,663 700,666 L707.5,667 L712,658 L709,645.5 Z" fill="#3a3937"/>
<path d="M751,656.5 C752.5,665 756,676 760,681 L767.5,684.3 L775,672 L770,651.5 Z" fill="#33322f"/>
<path d="M653.75,360 C648,366 645,372 645,380 L646.25,405 L667.6,405 C666.8,394 669,382.5 678,380 C686.5,380.5 691.5,389 696.5,405 L723.75,405 C720,388 714,374 700,362.5 L690.5,354 C682,361 664,362 655,357 Z" fill="url(#fk)"/>
<path d="M653.6,347.6 C662,352 680,351 690.2,344.4 L690.8,353.4 C682,361 664,362 655,357.5 Z" fill="url(#ring)" stroke="#252523" stroke-width="0.8"/>
<ellipse cx="706.75" cy="654.75" rx="5.8" ry="10.3" fill="#d4651f" transform="rotate(-8 706.75 654.75)"/>
<ellipse cx="705.7" cy="655.2" rx="2.2" ry="6" fill="#fff" transform="rotate(-8 705.7 655.2)"/>
<ellipse cx="769" cy="671.25" rx="6.8" ry="11.3" fill="#d4651f" transform="rotate(-6 769 671.25)"/>
<ellipse cx="767.2" cy="671.25" rx="2.7" ry="5.8" fill="#fff" transform="rotate(-6 767.2 671.25)"/>
<line x1="105.7" y1="209" x2="153.7" y2="300" stroke="#d2101f" stroke-width="1.5"/>
<line x1="62.9" y1="350" x2="116" y2="533.8" stroke="#d2101f" stroke-width="1.0"/>
<line x1="89.6" y1="351" x2="118.4" y2="433" stroke="#d2101f" stroke-width="0.7"/>
<line x1="488.2" y1="191" x2="488.2" y2="227" stroke="#d2101f" stroke-width="1.7"/>
<line x1="308" y1="328.4" x2="346" y2="328.4" stroke="#d2101f" stroke-width="1.6"/>
<line x1="307.2" y1="214.3" x2="403" y2="649.5" stroke="#d2101f" stroke-width="2.7"/>
<line x1="349.5" y1="408.2" x2="367.5" y2="408.2" stroke="#d2101f" stroke-width="1.9"/>
<line x1="288" y1="429" x2="336" y2="429" stroke="#d2101f" stroke-width="2.0"/>
<line x1="564" y1="466" x2="606" y2="515" stroke="#d2101f" stroke-width="0.9"/>
<line x1="630.75" y1="397.25" x2="442.6" y2="684.2" stroke="#d2101f" stroke-width="1.5"/>
<line x1="499" y1="600" x2="537" y2="600" stroke="#d2101f" stroke-width="1.6"/>
<line x1="422.5" y1="709" x2="461" y2="709" stroke="#d2101f" stroke-width="1.6"/>
<line x1="38.25" y1="660" x2="38.25" y2="735" stroke="#d2101f" stroke-width="1.0"/>
<line x1="63.75" y1="705" x2="48.75" y2="736" stroke="#d2101f" stroke-width="0.9"/>
<g filter="url(#idf)">
<text id="t0" x="62.00" y="79.88" font-size="65.63" stroke="#18427f" stroke-width="2.24" stroke-linejoin="miter" textLength="707.50" lengthAdjust="spacingAndGlyphs">FITTING REQUIREMENTS</text>
<text id="t1" x="545.00" y="126.85" font-size="22.39" stroke="#18427f" stroke-width="1.29" stroke-linejoin="miter" textLength="235.00" lengthAdjust="spacingAndGlyphs">*NO REAR SUSPENSIONS</text>
<text id="t2" x="542.50" y="152.85" font-size="22.39" stroke="#18427f" stroke-width="1.29" stroke-linejoin="miter" textLength="240.00" lengthAdjust="spacingAndGlyphs">(FRONT SUSPENSION OK)</text>
<text id="t3" x="53.00" y="167.35" font-size="22.82" stroke="#18427f" stroke-width="1.30" stroke-linejoin="miter" textLength="111.00" lengthAdjust="spacingAndGlyphs">36 SPOKES</text>
<text id="t4" x="29.00" y="195.84" font-size="23.52" stroke="#18427f" stroke-width="1.32" stroke-linejoin="miter" textLength="158.00" lengthAdjust="spacingAndGlyphs">IN REAR WHEEL</text>
<text id="t5" x="29.00" y="345.08" font-size="19.72" stroke="#18427f" stroke-width="1.23" stroke-linejoin="miter" textLength="99.00" lengthAdjust="spacingAndGlyphs">SEATSTAYS</text>
<text id="t6" x="448.50" y="183.19" font-size="19.01" stroke="#18427f" stroke-width="1.22" stroke-linejoin="miter" textLength="85.50" lengthAdjust="spacingAndGlyphs">TOP TUBE</text>
<text id="t7" x="348.50" y="334.16" font-size="16.90" stroke="#18427f" stroke-width="1.17" stroke-linejoin="miter" textLength="87.25" lengthAdjust="spacingAndGlyphs">SEAT TUBE</text>
<text id="t8" x="373.00" y="391.96" font-size="22.11" stroke="#18427f" stroke-width="1.29" stroke-linejoin="miter" textLength="194.00" lengthAdjust="spacingAndGlyphs">11” FROM BOTTOM</text>
<text id="t9" x="373.00" y="421.36" font-size="22.11" stroke="#18427f" stroke-width="1.29" stroke-linejoin="miter" textLength="129.00" lengthAdjust="spacingAndGlyphs">BRACKET TO</text>
<text id="t10" x="373.00" y="451.86" font-size="22.11" stroke="#18427f" stroke-width="1.29" stroke-linejoin="miter" textLength="120.50" lengthAdjust="spacingAndGlyphs">BOTTOM OF</text>
<text id="t11" x="374.00" y="481.85" font-size="22.54" stroke="#18427f" stroke-width="1.30" stroke-linejoin="miter" textLength="100.00" lengthAdjust="spacingAndGlyphs">TOP TUBE</text>
<text id="t12" x="227.00" y="415.01" font-size="17.61" stroke="#18427f" stroke-width="1.19" stroke-linejoin="miter" textLength="68.00" lengthAdjust="spacingAndGlyphs">1”-1.25”</text>
<text id="t13" x="239.00" y="435.81" font-size="17.61" stroke="#18427f" stroke-width="1.19" stroke-linejoin="miter" textLength="43.00" lengthAdjust="spacingAndGlyphs">TUBE</text>
<text id="t14" x="215.00" y="457.01" font-size="17.61" stroke="#18427f" stroke-width="1.19" stroke-linejoin="miter" textLength="88.00" lengthAdjust="spacingAndGlyphs">DIAMETER</text>
<text id="t15" x="564.00" y="531.63" font-size="15.49" stroke="#18427f" stroke-width="1.14" stroke-linejoin="miter" textLength="85.00" lengthAdjust="spacingAndGlyphs">DOWN TUBE</text>
<text id="t16" x="546.00" y="602.44" font-size="14.65" stroke="#18427f" stroke-width="1.12" stroke-linejoin="miter" textLength="43.00" lengthAdjust="spacingAndGlyphs">1”-1.5”</text>
<text id="t17" x="525.00" y="620.44" font-size="14.65" stroke="#18427f" stroke-width="1.12" stroke-linejoin="miter" textLength="85.00" lengthAdjust="spacingAndGlyphs">DOWN TUBE</text>
<text id="t18" x="531.00" y="637.44" font-size="14.65" stroke="#18427f" stroke-width="1.12" stroke-linejoin="miter" textLength="71.00" lengthAdjust="spacingAndGlyphs">DIAMETER</text>
<text id="t19" x="501.50" y="675.30" font-size="17.75" stroke="#18427f" stroke-width="1.19" stroke-linejoin="miter" textLength="84.50" lengthAdjust="spacingAndGlyphs">EXTENDED</text>
<text id="t20" x="461.50" y="697.80" font-size="17.75" stroke="#18427f" stroke-width="1.19" stroke-linejoin="miter" textLength="163.50" lengthAdjust="spacingAndGlyphs">BOTTOM BRACKET &amp;</text>
<text id="t21" x="477.50" y="720.80" font-size="17.75" stroke="#18427f" stroke-width="1.19" stroke-linejoin="miter" textLength="132.50" lengthAdjust="spacingAndGlyphs">WIDE CRANKSET</text>
<text id="t22" x="512.50" y="743.80" font-size="17.75" stroke="#18427f" stroke-width="1.19" stroke-linejoin="miter" textLength="63.00" lengthAdjust="spacingAndGlyphs">NEEDED</text>
<text id="t23" x="405.50" y="767.60" font-size="18.45" stroke="#18427f" stroke-width="1.21" stroke-linejoin="miter" textLength="276.00" lengthAdjust="spacingAndGlyphs">(7.5” BETWEEN PEDALS REQUIRED)</text>
<text id="t24" x="681.00" y="687.54" font-size="14.65" stroke="#18427f" stroke-width="1.12" stroke-linejoin="miter" textLength="69.00" lengthAdjust="spacingAndGlyphs">DROPOUTS</text>
<text id="t25" x="17.00" y="756.38" font-size="20.00" stroke="#18427f" stroke-width="1.24" stroke-linejoin="miter" textLength="102.00" lengthAdjust="spacingAndGlyphs">DROPOUTS</text>
</g>
</svg>
</body></html>
